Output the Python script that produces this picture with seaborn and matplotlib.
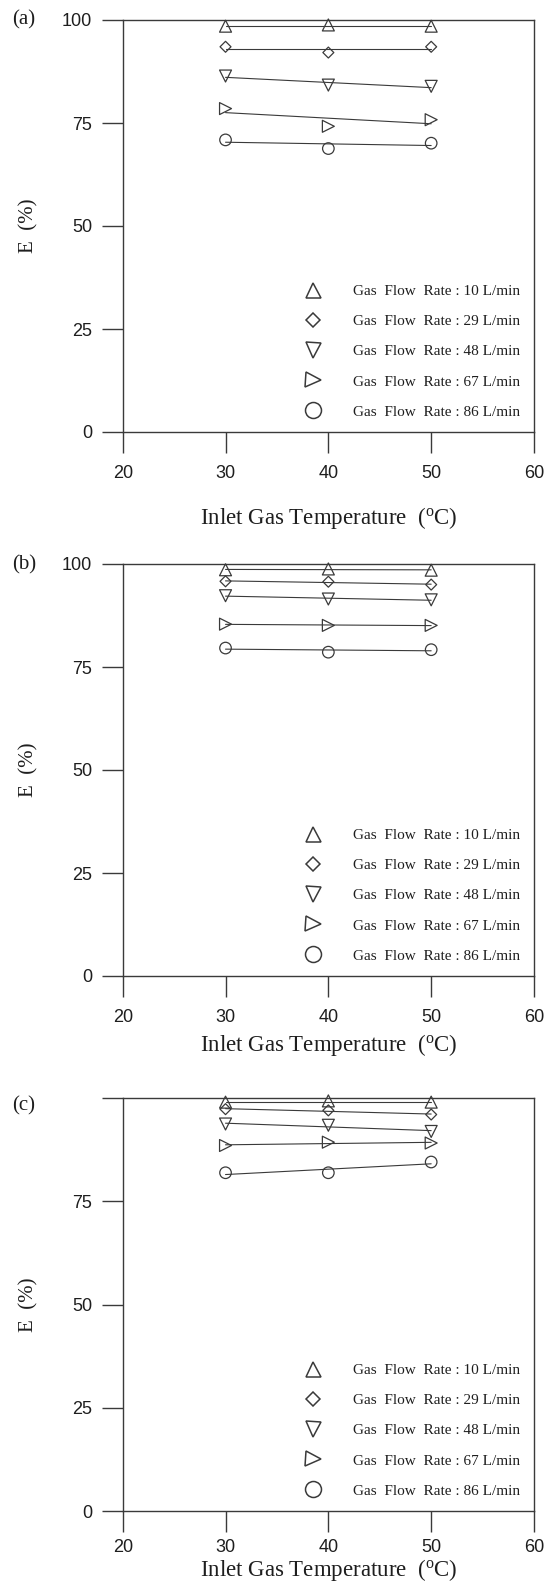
import matplotlib
matplotlib.use("Agg")
import matplotlib.pyplot as plt
import seaborn as sns
from matplotlib.lines import Line2D

# ---------------- data ----------------
temperatures = [30, 40, 50]
flow_labels = [
    "Gas  Flow  Rate : 10 L/min",
    "Gas  Flow  Rate : 29 L/min",
    "Gas  Flow  Rate : 48 L/min",
    "Gas  Flow  Rate : 67 L/min",
    "Gas  Flow  Rate : 86 L/min",
]
panel_names = ["(a)", "(b)", "(c)"]

# panel (a)
a_rate10 = [98.5, 98.8, 98.5]
a_rate29 = [93.5, 92.1, 93.5]
a_rate48 = [86.4, 84.2, 83.9]
a_rate67 = [78.5, 74.2, 75.8]
a_rate86 = [70.9, 68.8, 70.1]

# panel (b)
b_rate10 = [98.6, 98.8, 98.5]
b_rate29 = [95.8, 95.7, 95.0]
b_rate48 = [92.3, 91.5, 91.3]
b_rate67 = [85.4, 85.1, 85.1]
b_rate86 = [79.6, 78.6, 79.2]

# panel (c)
c_rate10 = [99.0, 99.3, 99.0]
c_rate29 = [97.3, 97.0, 96.0]
c_rate48 = [93.7, 93.4, 91.9]
c_rate67 = [88.5, 89.3, 89.1]
c_rate86 = [81.9, 81.9, 84.5]

x_ticks = [20, 30, 40, 50, 60]
y_ticks = [0, 25, 50, 75, 100]
y_tick_labels_ab = ["0", "25", "50", "75", "100"]
y_tick_labels_c = ["0", "25", "50", "75", ""]

panels = [
    [a_rate10, a_rate29, a_rate48, a_rate67, a_rate86],
    [b_rate10, b_rate29, b_rate48, b_rate67, b_rate86],
    [c_rate10, c_rate29, c_rate48, c_rate67, c_rate86],
]

# ---------------- style ----------------
sns.set_style("ticks")
plt.rcParams["font.family"] = ["Liberation Serif", "DejaVu Serif"]
plt.rcParams["mathtext.fontset"] = "custom"
plt.rcParams["mathtext.rm"] = "Liberation Serif"
plt.rcParams["mathtext.it"] = "Liberation Serif:italic"

INK = "#3a3a3a"
TXT = "#1e1e1e"
markers = ["^", "D", "v", ">", "o"]
data_sizes = [74, 31, 74, 74, 69]
legend_ms = [10.8, 7.5, 10.8, 10.8, 11.5]

W, H = 547, 1583
fig = plt.figure(figsize=(W / 100, H / 100), dpi=100)

left_px, right_px = 122.7, 534.0
axes_px = [(20, 432), (564, 976), (1098, 1511)]
xlabel_coords = [-0.177, -0.136, -0.112]
xtick_pads = [8.5, 8.5, 5.5]
panel_label_y = [20, 565, 1106]

for i, (series, (top, bot)) in enumerate(zip(panels, axes_px)):
    ax = fig.add_axes([left_px / W, 1 - bot / H, (right_px - left_px) / W, (bot - top) / H])
    for vals, m, s in zip(series, markers, data_sizes):
        sns.regplot(
            x=temperatures, y=vals, ax=ax, ci=None, truncate=True, marker=m,
            scatter_kws=dict(s=s, facecolors="none", edgecolors=INK, linewidths=0.9,
                             alpha=1, clip_on=False, zorder=3),
            line_kws=dict(color=INK, lw=0.8, zorder=2),
        )
    ax.set_xlim(20, 60)
    ax.set_ylim(0, 100)
    ax.set_xticks(x_ticks, labels=[str(t) for t in x_ticks],
                  fontfamily="Liberation Sans", fontsize=13, color=TXT)
    ylabels = y_tick_labels_c if i == 2 else y_tick_labels_ab
    ax.set_yticks(y_ticks, labels=ylabels, fontfamily="Liberation Sans", fontsize=13, color=TXT)
    ax.tick_params(axis="both", direction="out", length=14.9, width=1.0, color=INK)
    ax.tick_params(axis="x", pad=xtick_pads[i])
    ax.tick_params(axis="y", pad=7.2)
    for sp in ax.spines.values():
        sp.set_visible(True)
        sp.set_linewidth(1.0)
        sp.set_color(INK)

    ax.set_xlabel("Inlet Gas Temperature  ($^{\\rm o}$C)", fontsize=16.5, color=TXT)
    ax.xaxis.set_label_coords(0.5, xlabel_coords[i])
    ax.set_ylabel("E  (%)", fontsize=15, color=TXT)
    ax.yaxis.set_label_coords(-0.205, 0.5)

    handles = [
        Line2D([], [], marker=m, linestyle="none", markersize=ms, markerfacecolor="none",
               markeredgecolor=INK, markeredgewidth=1.1)
        for m, ms in zip(markers, legend_ms)
    ]
    ax.legend(handles, flow_labels, loc="lower left", bbox_to_anchor=(0.4263, 0.032),
              frameon=False, fontsize=11, handlelength=2.0, handletextpad=1.6,
              labelspacing=1.08, borderpad=0, borderaxespad=0, labelcolor=TXT)

    fig.text(12 / W, 1 - panel_label_y[i] / H, panel_names[i], ha="left", va="center",
             fontsize=15, color=TXT)

fig.savefig("out.png", dpi=100)
